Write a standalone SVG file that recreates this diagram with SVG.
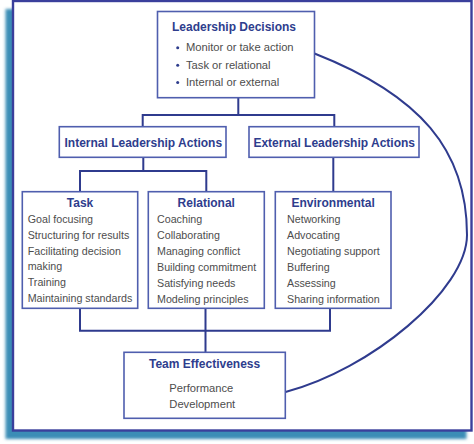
<svg xmlns="http://www.w3.org/2000/svg" width="474" height="444" viewBox="0 0 474 444">
  <defs>
    <filter id="blur" x="-5%" y="-5%" width="110%" height="110%">
      <feGaussianBlur stdDeviation="1.6"/>
    </filter>
  </defs>
  <style>
    .box { fill: #ffffff; stroke: #4f5eae; stroke-width: 1.6; }
    .conn { fill: none; stroke: #2f3b8e; stroke-width: 2; }
    .title { font-family: "Liberation Sans", Arial, sans-serif; font-weight: bold; font-size: 12px; fill: #2e3d8d; text-anchor: middle; }
    .item { font-family: "Liberation Sans", Arial, sans-serif; font-size: 10.7px; fill: #4d4d4d; }
    .big { font-family: "Liberation Sans", Arial, sans-serif; font-size: 11.2px; fill: #4d4d4d; }
    .dot { fill: #2e3d8d; }
  </style>

  <!-- frame -->
  <g id="frame">
    <rect x="5.5" y="9" width="461" height="430" fill="#3a8db6" filter="url(#blur)"/>
    <rect x="13" y="1" width="458.5" height="429.5" fill="#ffffff" stroke="#3a3f9c" stroke-width="2.4"/>
  </g>

  <!-- connectors -->
  <g id="connectors">
    <path class="conn" d="M238.3,97.7 V115 M142.7,126.7 V115 H334.3 V126.7"/>
    <path class="conn" d="M143.3,157.3 V171 M80,191.7 V171 H206.3 V191.7"/>
    <path class="conn" d="M333.3,157.3 V191.7"/>
    <path class="conn" d="M80,308.3 V330.7 H330 V308.3 M205.5,308.3 V352.3"/>
    <path class="conn" d="M314.5,53.5 C420,95 467,150 467,235 C467,290 370,370 285.5,392"/>
  </g>

  <g id="leadership-decisions">
    <rect class="box" x="157.5" y="11.5" width="157" height="86.2"/>
    <text class="title" x="234" y="31.2">Leadership Decisions</text>
    <circle class="dot" cx="177.7" cy="47.8" r="1.5"/>
    <circle class="dot" cx="177.7" cy="65.2" r="1.5"/>
    <circle class="dot" cx="177.7" cy="82.5" r="1.5"/>
    <text class="big" x="186" y="51.3">Monitor or take action</text>
    <text class="big" x="186" y="68.7">Task or relational</text>
    <text class="big" x="186" y="86">Internal or external</text>
  </g>

  <g id="internal-actions">
    <rect class="box" x="59.3" y="126.7" width="166.7" height="30.6"/>
    <text class="title" x="143.3" y="146.5">Internal Leadership Actions</text>
  </g>

  <g id="external-actions">
    <rect class="box" x="249" y="126.7" width="170" height="30.6"/>
    <text class="title" x="334.2" y="146.5">External Leadership Actions</text>
  </g>

  <g id="task">
    <rect class="box" x="22.3" y="191.7" width="115.4" height="116.6"/>
    <text class="title" x="80" y="206.5">Task</text>
    <text class="item" x="27.7" y="222.7">Goal focusing</text>
    <text class="item" x="27.7" y="238.7">Structuring for results</text>
    <text class="item" x="27.7" y="255">Facilitating decision</text>
    <text class="item" x="27.7" y="269.5">making</text>
    <text class="item" x="27.7" y="285.5">Training</text>
    <text class="item" x="27.7" y="302">Maintaining standards</text>
  </g>

  <g id="relational">
    <rect class="box" x="148.3" y="191.7" width="116" height="116.6"/>
    <text class="title" x="206.3" y="206.5">Relational</text>
    <text class="item" x="157" y="222.7">Coaching</text>
    <text class="item" x="157" y="238.7">Collaborating</text>
    <text class="item" x="157" y="254.7">Managing conflict</text>
    <text class="item" x="157" y="270.7">Building commitment</text>
    <text class="item" x="157" y="286.5">Satisfying needs</text>
    <text class="item" x="157" y="302.5">Modeling principles</text>
  </g>

  <g id="environmental">
    <rect class="box" x="275.3" y="191.7" width="115.7" height="116.6"/>
    <text class="title" x="333.2" y="206.5">Environmental</text>
    <text class="item" x="287" y="222.7">Networking</text>
    <text class="item" x="287" y="238.7">Advocating</text>
    <text class="item" x="287" y="254.7">Negotiating support</text>
    <text class="item" x="287" y="270.7">Buffering</text>
    <text class="item" x="287" y="286.5">Assessing</text>
    <text class="item" x="287" y="302.5">Sharing information</text>
  </g>

  <g id="team-effectiveness">
    <rect class="box" x="124" y="352.3" width="161.3" height="66"/>
    <text class="title" x="204.6" y="368.2">Team Effectiveness</text>
    <text class="big" x="169.3" y="392.2">Performance</text>
    <text class="big" x="169.3" y="407.9">Development</text>
  </g>
</svg>
